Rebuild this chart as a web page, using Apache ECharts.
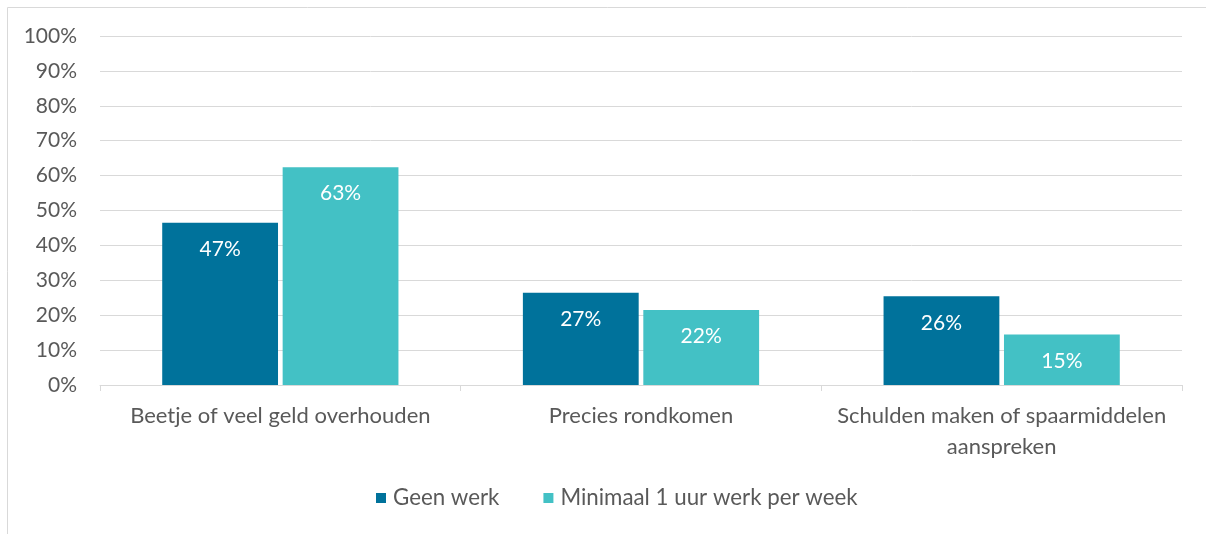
<!DOCTYPE html>
<html><head><meta charset="utf-8">
<script src="https://cdn.jsdelivr.net/npm/echarts@6/dist/echarts.min.js"></script>
<style>html,body{margin:0;padding:0;background:#fff}#c{width:1206px;height:534px}</style>
</head><body><div id="c"></div>
<script>
const categories = ['Beetje of veel geld overhouden', 'Precies rondkomen', 'Schulden maken of spaarmiddelen\naanspreken'];
const seriesNames = ['Geen werk', 'Minimaal 1 uur werk per week'];
const geenWerk = [46.5, 26.4, 25.4];
const minimaalWerk = [62.4, 21.5, 14.5];
const labelsGeen = ['47%', '27%', '26%'];
const labelsMin = ['63%', '22%', '15%'];
const colors = ['#00729B', '#43C1C5'];
const FONT = 'Lato';

const chart = echarts.init(document.getElementById('c'), null, {renderer: 'canvas'});
function mkSeries(name, data, labels, color) {
  return {
    name: name, type: 'bar', data: data,
    barGap: '4%', barCategoryGap: '34.5%',
    itemStyle: {color: color},
    label: {show: true, position: 'insideTop', distance: 16, color: '#fff', fontFamily: FONT, fontSize: 21,
      formatter: p => labels[p.dataIndex]}
  };
}
chart.setOption({
  animation: false,
  textStyle: {fontFamily: FONT},
  graphic: [{type: 'rect', shape: {x: 7.5, y: 7.5, width: 1220, height: 560}, style: {fill: 'none', stroke: '#d9d9d9', lineWidth: 1}}],
  grid: {left: 100, right: 24, top: 36, bottom: 149, containLabel: false},
  legend: {top: 482, left: 371, itemWidth: 10, itemHeight: 10, itemGap: 44, icon: 'rect',
    textStyle: {color: '#595959', fontSize: 22.3, fontFamily: FONT, padding: [0, 0, 0, 2]}, data: seriesNames},
  xAxis: {type: 'category', data: categories,
    axisLine: {lineStyle: {color: '#d9d9d9', width: 1}},
    axisTick: {show: true, length: 6, lineStyle: {color: '#d9d9d9'}},
    axisLabel: {color: '#595959', fontSize: 22, fontFamily: FONT, margin: 15, lineHeight: 31, interval: 0}},
  yAxis: {type: 'value', min: 0, max: 100, interval: 10,
    axisLine: {show: false}, axisTick: {show: false},
    splitLine: {lineStyle: {color: '#d9d9d9', width: 1}},
    axisLabel: {color: '#595959', fontSize: 21, fontFamily: FONT, margin: 23, formatter: v => v + '%'}},
  series: [mkSeries(seriesNames[0], geenWerk, labelsGeen, colors[0]), mkSeries(seriesNames[1], minimaalWerk, labelsMin, colors[1])]
});
</script></body></html>
